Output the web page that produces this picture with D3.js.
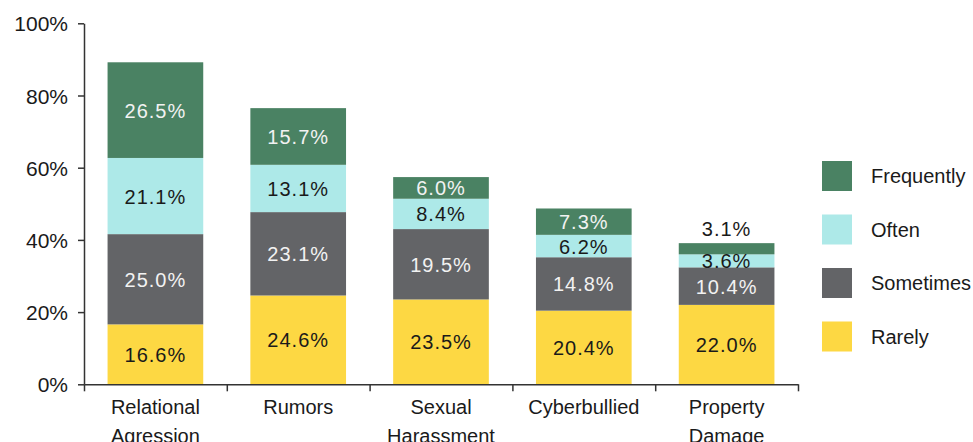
<!DOCTYPE html>
<html>
  <head>
    <meta charset="utf-8">
    <script src="https://cdn.jsdelivr.net/npm/d3@7"></script>
    <style>
      body { margin: 0; background: #fff; }
      svg { display: block; }
    </style>
  </head>
  <body>
    <svg id="chart" width="973" height="442"></svg>
    <script>
        // data
        var categories = ["Relational Agression", "Rumors", "Sexual Harassment", "Cyberbullied", "Property Damage"];
        var categoryLines = [["Relational", "Agression"], ["Rumors"], ["Sexual", "Harassment"], ["Cyberbullied"], ["Property", "Damage"]];
        var series = ["Rarely", "Sometimes", "Often", "Frequently"];
        var rarely     = [16.6, 24.6, 23.5, 20.4, 22.0];
        var sometimes  = [25.0, 23.1, 19.5, 14.8, 10.4];
        var often      = [21.1, 13.1, 8.4, 6.2, 3.6];
        var frequently = [26.5, 15.7, 6.0, 7.3, 3.1];
        var yTicks = [0, 20, 40, 60, 80, 100];

        var colors = { Rarely: "#fdd843", Sometimes: "#636467", Often: "#ade9e8", Frequently: "#4a8263" };
        var textColors = { Rarely: "#1a1a1a", Sometimes: "#f2f2f2", Often: "#1a1a1a", Frequently: "#f2f2f2" };
        var font = "'Liberation Sans', Arial, sans-serif";

        var rows = categories.map(function(c, i) {
          return { cat: c, Rarely: rarely[i], Sometimes: sometimes[i], Often: often[i], Frequently: frequently[i] };
        });
        var stacked = d3.stack().keys(series)(rows);

        var svg = d3.select("#chart");
        // plot edges (note: "top" would clash with window.top)
        var plotLeft = 84, plotRight = 798, plotTop = 23.3, plotBottom = 384.3;

        var x = d3.scaleBand().domain(categories).range([plotLeft, plotRight]).paddingInner(0.33).paddingOuter(0.165);
        var y = d3.scaleLinear().domain([0, 100]).range([plotBottom, plotTop]);
        var xEdges = d3.scaleLinear().domain([0, categories.length]).range([plotLeft, plotRight]);

        // bars
        var layer = svg.selectAll("g.layer").data(stacked).enter().append("g")
          .attr("class", "layer")
          .attr("fill", function(d) { return colors[d.key]; });

        layer.selectAll("rect").data(function(d) { return d; }).enter().append("rect")
          .attr("x", function(d) { return x(d.data.cat); })
          .attr("width", x.bandwidth())
          .attr("y", function(d) { return y(d[1]); })
          .attr("height", function(d) { return y(d[0]) - y(d[1]); });

        // value labels (tiny top segment goes above the bar)
        stacked.forEach(function(s) {
          svg.append("g").selectAll("text").data(s).enter().append("text")
            .attr("x", function(d) { return x(d.data.cat) + x.bandwidth() / 2; })
            .attr("y", function(d) {
              var v = d[1] - d[0];
              if (s.key == "Frequently" && v < 3.5) return y(d[1]) - 7;
              return (y(d[0]) + y(d[1])) / 2 + 7.5;
            })
            .attr("text-anchor", "middle")
            .attr("font-family", font)
            .attr("font-size", 20)
            .attr("letter-spacing", 1)
            .attr("fill", function(d) {
              var v = d[1] - d[0];
              if (s.key == "Frequently" && v < 3.5) return "#1a1a1a";
              return textColors[s.key];
            })
            .text(function(d) { return (d[1] - d[0]).toFixed(1) + "%"; });
        });

        // y axis
        var yAxis = svg.append("g")
          .attr("transform", "translate(" + plotLeft + ",0)")
          .call(d3.axisLeft(y).tickValues(yTicks).tickSize(6).tickSizeOuter(0).tickFormat(function(d) { return d + "%"; }));
        yAxis.select(".domain").attr("stroke", "#333").attr("stroke-width", 1.5);
        yAxis.selectAll(".tick line").attr("stroke", "#333").attr("stroke-width", 1.5);
        yAxis.selectAll(".tick text")
          .attr("x", -16)
          .attr("dy", "0.36em")
          .attr("font-family", font)
          .attr("font-size", 21)
          .attr("fill", "#1a1a1a");

        // x axis with ticks at band edges
        var xAxis = svg.append("g")
          .attr("transform", "translate(0," + plotBottom + ")")
          .call(d3.axisBottom(xEdges).tickValues(d3.range(categories.length + 1)).tickSize(7).tickSizeOuter(0).tickFormat(""));
        xAxis.select(".domain").attr("stroke", "#333").attr("stroke-width", 1.5);
        xAxis.selectAll(".tick line").attr("stroke", "#333").attr("stroke-width", 1.5);

        var catLabels = svg.append("g").selectAll("text").data(categories).enter().append("text")
          .attr("x", function(d) { return x(d) + x.bandwidth() / 2; })
          .attr("y", 414)
          .attr("text-anchor", "middle")
          .attr("font-family", font)
          .attr("font-size", 20)
          .attr("fill", "#1a1a1a");
        catLabels.each(function(d, i) {
          var t = d3.select(this);
          categoryLines[i].forEach(function(line, j) {
            t.append("tspan")
              .attr("x", x(d) + x.bandwidth() / 2)
              .attr("dy", j == 0 ? 0 : 28.5)
              .text(line);
          });
        });

        // legend
        var legendKeys = series.slice().reverse();
        var legend = svg.append("g").selectAll("g").data(legendKeys).enter().append("g")
          .attr("transform", function(d, i) { return "translate(822," + (161 + i * 53.5) + ")"; });
        legend.append("rect")
          .attr("width", 30).attr("height", 30)
          .attr("fill", function(d) { return colors[d]; });
        legend.append("text")
          .attr("x", 49)
          .attr("y", 15)
          .attr("dy", "0.36em")
          .attr("font-family", font)
          .attr("font-size", 20)
          .attr("fill", "#1a1a1a")
          .text(function(d) { return d; });
    </script>
  </body>
</html>
